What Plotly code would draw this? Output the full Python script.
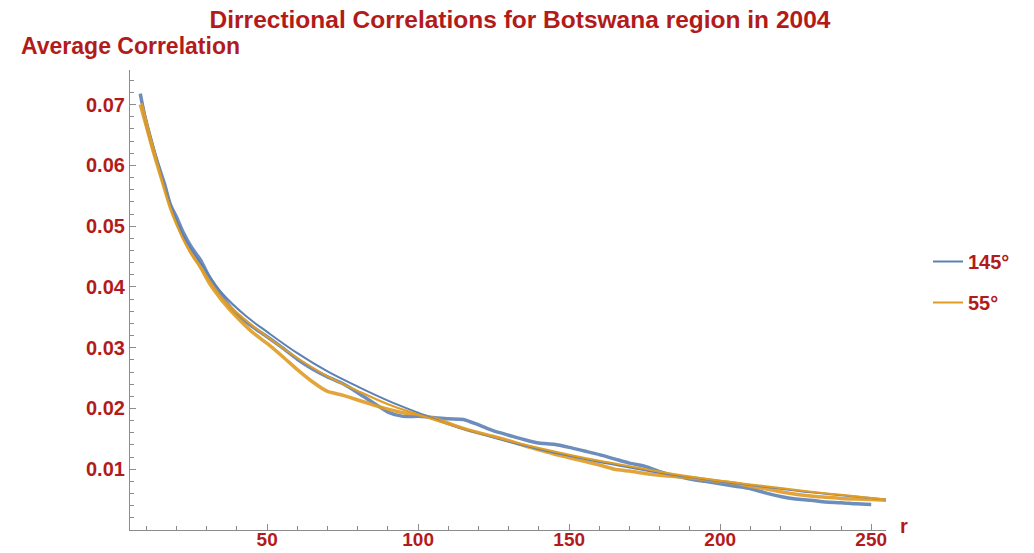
import plotly.graph_objects as go

# ---------------- data ----------------
r_blue = [8, 10, 12, 14, 16, 18, 20, 22, 25, 28, 31, 35, 40, 45, 50, 55, 60, 65, 70,
          75, 80, 85, 90, 95, 100, 105, 110, 115, 120, 125, 130, 135, 140, 145, 150,
          155, 160, 165, 170, 175, 180, 185, 190, 195, 200, 205, 210, 215, 220, 225,
          230, 235, 240, 245, 250]
corr_blue = [0.0718, 0.0668, 0.0632, 0.0600, 0.0570, 0.0535, 0.0515, 0.0492, 0.0465,
             0.0444, 0.0415, 0.0385, 0.0355, 0.0335, 0.0318, 0.0300, 0.0281, 0.0265,
             0.0252, 0.0241, 0.0226, 0.0210, 0.0194, 0.0187, 0.0187, 0.0185, 0.0183,
             0.0182, 0.0173, 0.0163, 0.0156, 0.0149, 0.0143, 0.0141, 0.0136, 0.0130,
             0.0124, 0.0117, 0.0110, 0.0105, 0.0096, 0.0089, 0.0084, 0.0080, 0.0076,
             0.0072, 0.0068, 0.0061, 0.0055, 0.0051, 0.0049, 0.0046, 0.0045, 0.0043,
             0.0042]

r_orange = [8, 10, 12, 14, 16, 18, 20, 22, 25, 28, 31, 35, 40, 45, 50, 55, 60, 65, 70,
            75, 80, 85, 90, 95, 100, 105, 110, 115, 120, 125, 130, 135, 140, 145, 150,
            155, 160, 165, 170, 175, 180, 185, 190, 195, 200, 205, 210, 215, 220, 225,
            230, 235, 240, 245, 250, 255]
corr_orange = [0.0700, 0.0665, 0.0628, 0.0595, 0.0562, 0.0530, 0.0505, 0.0484, 0.0455,
               0.0432, 0.0405, 0.0378, 0.0350, 0.0326, 0.0307, 0.0286, 0.0264, 0.0244,
               0.0228, 0.0222, 0.0214, 0.0206, 0.0199, 0.0193, 0.0190, 0.0184, 0.0176,
               0.0167, 0.0160, 0.0154, 0.0147, 0.0139, 0.0132, 0.0125, 0.0119, 0.0113,
               0.0107, 0.0100, 0.0097, 0.0093, 0.0090, 0.0088, 0.0086, 0.0083, 0.0080,
               0.0077, 0.0072, 0.0068, 0.0063, 0.0059, 0.0056, 0.0054, 0.0052, 0.0051,
               0.0050, 0.0049]

# fitted curves (read at a set of r positions)
fit_r = [8.5, 12, 18, 23, 29, 35, 43, 50, 60, 70, 80, 90, 100, 110, 120, 130, 140,
         150, 160, 170, 180, 190, 200, 210, 220, 230, 240, 255]
fit_blue = [0.0705, 0.0638, 0.0536, 0.0478, 0.0432, 0.0390, 0.0352, 0.0326, 0.0291,
            0.0261, 0.0236, 0.0213, 0.0193, 0.0174, 0.0159, 0.0145, 0.0133, 0.0122,
            0.0112, 0.0103, 0.0094, 0.0087, 0.0080, 0.0074, 0.0068, 0.0062, 0.0057,
            0.0050]
fit_orange = [0.0703, 0.0635, 0.0530, 0.0470, 0.0424, 0.0382, 0.0345, 0.0318, 0.0283,
              0.0253, 0.0229, 0.0207, 0.0190, 0.0174, 0.0160, 0.0147, 0.0135, 0.0124,
              0.0114, 0.0105, 0.0096, 0.0088, 0.0081, 0.0075, 0.0069, 0.0063, 0.0058,
              0.0050]

series_names = ["145°", "55°"]
y_ticks = [0.01, 0.02, 0.03, 0.04, 0.05, 0.06, 0.07]
x_ticks = [50, 100, 150, 200, 250]

title_text = "Dirrectional Correlations for Botswana region in 2004"
y_label = "Average Correlation"
x_label = "r"

# ---------------- style ----------------
BLUE = "#5E81B5"
ORANGE = "#E19C24"
RED = "#B31B1B"
AXIS = "#8c8c8c"
FONT = "Liberation Sans, Arial, sans-serif"

fig = go.Figure()

fig.add_trace(go.Scatter(x=r_blue, y=corr_blue, mode="lines",
                         line=dict(color=BLUE, width=3.5, shape="spline", smoothing=0.6),
                         opacity=0.9, showlegend=False, legendgroup="a",
                         hoverinfo="skip"))
fig.add_trace(go.Scatter(x=r_orange, y=corr_orange, mode="lines",
                         line=dict(color=ORANGE, width=3.5, shape="spline", smoothing=0.6),
                         opacity=0.9, showlegend=False, legendgroup="b",
                         hoverinfo="skip"))
fig.add_trace(go.Scatter(x=fit_r, y=fit_blue, mode="lines", name=series_names[0],
                         line=dict(color=BLUE, width=2, shape="spline"),
                         legendgroup="a"))
fig.add_trace(go.Scatter(x=fit_r, y=fit_orange, mode="lines", name=series_names[1],
                         line=dict(color=ORANGE, width=2, shape="spline"),
                         legendgroup="b"))

W, H = 1034, 553
L, R, T, B = 130, 148, 70, 23
pw, ph = W - L - R, H - T - B

def px_x(px):
    return (px - L) / pw

def px_y(py):
    return (H - B - py) / ph

fig.update_layout(
    width=W, height=H,
    margin=dict(l=L, r=R, t=T, b=B, autoexpand=False),
    paper_bgcolor="white", plot_bgcolor="white",
    font=dict(family=FONT, color=RED),
    title=dict(text=title_text, x=520 / W, xanchor="center",
               y=1 - 19 / H, yanchor="middle", yref="container",
               font=dict(size=24.5, color=RED, family=FONT, weight="bold")),
    legend=dict(x=px_x(928), y=px_y(242), xanchor="left", yanchor="top",
                font=dict(size=20, color=RED, family=FONT, weight="bold"),
                tracegroupgap=12, itemwidth=30, bgcolor="rgba(0,0,0,0)"),
    xaxis=dict(range=[4.6, 254.9], showgrid=False, zeroline=False,
               showline=True, linecolor=AXIS, linewidth=1.2,
               tickmode="array", tickvals=x_ticks, ticks="inside",
               ticklen=6, tickcolor=AXIS, ticklabelstandoff=-8,
               tickfont=dict(size=19, color=RED, family=FONT, weight="bold"),
               minor=dict(tickmode="linear", tick0=0, dtick=10, ticks="inside",
                          ticklen=4, tickcolor=AXIS, showgrid=False)),
    yaxis=dict(range=[0, 0.0757], showgrid=False, zeroline=False,
               showline=True, linecolor=AXIS, linewidth=1.2,
               tickmode="array", tickvals=y_ticks, tickformat=".2f",
               ticks="inside", ticklen=6, tickcolor=AXIS,
               tickfont=dict(size=20, color=RED, family=FONT, weight="bold"),
               minor=dict(tickmode="linear", tick0=0, dtick=0.002, ticks="inside",
                          ticklen=4, tickcolor=AXIS, showgrid=False)),
    annotations=[
        dict(text=y_label, xref="paper", yref="paper", x=px_x(19), y=px_y(46),
             xanchor="left", yanchor="middle", showarrow=False,
             font=dict(size=23, color=RED, family=FONT, weight="bold")),
        dict(text=x_label, xref="paper", yref="paper", x=px_x(898), y=px_y(526),
             xanchor="left", yanchor="middle", showarrow=False,
             font=dict(size=20, color=RED, family=FONT, weight="bold")),
    ],
)

fig.write_html("out.html")
